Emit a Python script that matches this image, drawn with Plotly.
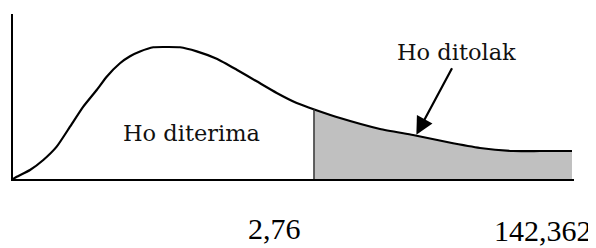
import numpy as np
import plotly.graph_objects as go

# Curve (x in arbitrary units 0..10, density scaled so the peak = 1)
curve_x = [0.000, 0.066, 0.303, 0.540, 0.779, 1.016, 1.253, 1.492, 1.670, 1.907, 2.086,
           2.264, 2.501, 2.727, 2.977, 3.275, 3.631, 3.988, 4.344, 4.701, 5.057, 5.383,
           5.829, 6.542, 7.130, 7.736, 8.324, 8.913, 9.394, 9.964]
curve_y = [0.000, 0.017, 0.068, 0.144, 0.245, 0.396, 0.548, 0.674, 0.775, 0.877, 0.930,
           0.966, 0.998, 1.000, 0.998, 0.967, 0.911, 0.828, 0.740, 0.652, 0.576, 0.525,
           0.462, 0.379, 0.333, 0.280, 0.235, 0.212, 0.212, 0.212]

critical_x = 5.365            # boundary of the rejection region
tick_labels = ["2,76", "142,362"]
tick_label_x = [4.66, 9.44]
accept_label = "Ho diterima"
reject_label = "Ho ditolak"

cx = np.array(curve_x)
cy = np.array(curve_y)
crit_y = float(np.interp(critical_x, cx, cy))
mask = cx > critical_x
fill_x = [critical_x] + cx[mask].tolist()
fill_y = [crit_y] + cy[mask].tolist()

fig = go.Figure()
# rejection region
fig.add_trace(go.Scatter(x=fill_x, y=fill_y, mode="lines", fill="tozeroy",
                         fillcolor="#c0c0c0", line=dict(width=0, color="#c0c0c0", shape="spline", smoothing=0.5),
                         hoverinfo="skip", showlegend=False))
# density curve
fig.add_trace(go.Scatter(x=curve_x, y=curve_y, mode="lines",
                         line=dict(color="#000000", width=2.2, shape="spline", smoothing=0.5),
                         hoverinfo="skip", showlegend=False))
# critical value line
fig.add_trace(go.Scatter(x=[critical_x, critical_x], y=[0, crit_y], mode="lines",
                         line=dict(color="#333333", width=1.5), hoverinfo="skip", showlegend=False))

label_font = dict(family="DejaVu Serif", size=22.5, color="#111111")
fig.add_annotation(x=3.19, y=0.345, xref="x", yref="y", text=accept_label,
                   showarrow=False, font=label_font)
fig.add_annotation(x=7.91, y=0.965, xref="x", yref="y", text=reject_label,
                   showarrow=False, font=label_font)
# arrow
fig.add_annotation(x=7.19, y=0.335, xref="x", yref="y", ax=7.84, ay=0.85,
                   axref="x", ayref="y", text="", showarrow=True,
                   arrowhead=2, arrowsize=1.6, arrowwidth=2.2, arrowcolor="#000000")

tick_font = dict(family="Liberation Serif", size=30, color="#000000")
tick_label_y = [-0.30, -0.315]
for t, xv, yv in zip(tick_labels, tick_label_x, tick_label_y):
    fig.add_annotation(x=xv, y=yv, xref="x", yref="paper", text=t,
                       showarrow=False, font=tick_font, yanchor="middle")

# the page body adds an 8px offset, so the figure is 588x240 placed at (8, 8)
fig.update_layout(
    width=588, height=240,
    margin=dict(l=5, r=22, t=6, b=69),
    paper_bgcolor="white", plot_bgcolor="white",
    xaxis=dict(range=[0, 10], showgrid=False, zeroline=False, showticklabels=False,
               ticks="", showline=True, linecolor="#000000", linewidth=2),
    yaxis=dict(range=[0, 1.25], showgrid=False, zeroline=False, showticklabels=False,
               ticks="", showline=True, linecolor="#000000", linewidth=2),
)

fig.write_html("out.html")
